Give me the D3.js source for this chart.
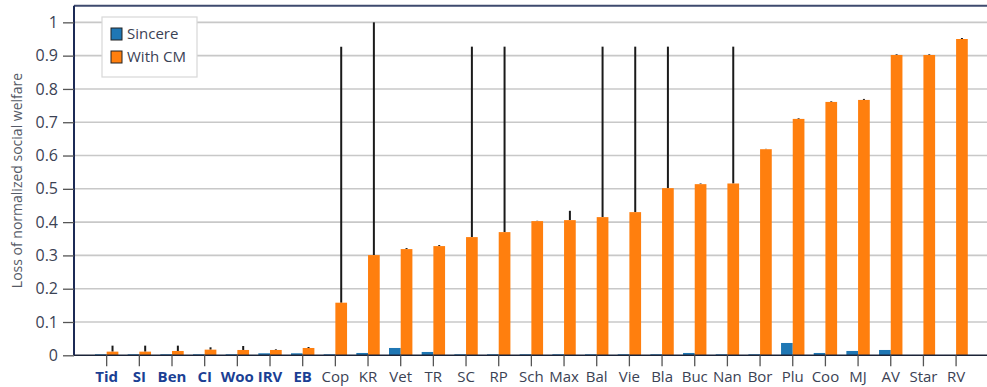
<!DOCTYPE html>
<html>
<head>
<meta charset="utf-8">
<script src="https://cdn.jsdelivr.net/npm/d3@7/dist/d3.min.js"></script>
<style>
  html, body { margin: 0; padding: 0; background: #fff; }
  svg { display: block; font-family: "Open Sans", "Noto Sans", sans-serif; }
</style>
</head>
<body>
<svg id="chart" width="987" height="387"></svg>
<script>
// Voting rules, ordered by loss under coalitional manipulation
const categories = ["Tid","SI","Ben","CI","Woo","IRV","EB","Cop","KR","Vet","TR","SC","RP","Sch","Max","Bal","Vie","Bla","Buc","Nan","Bor","Plu","Coo","MJ","AV","Star","RV"];
// Rules drawn in bold on the axis
const boldRules = ["Tid","SI","Ben","CI","Woo","IRV","EB"];
// Loss with sincere voting
const sincere = [0.003,0.003,0.003,0.003,0.003,0.006,0.006,0.003,0.007,0.022,0.010,0.003,0.003,0.003,0.003,0.003,0.003,0.003,0.007,0.003,0.003,0.037,0.007,0.013,0.016,0.001,0.001];
// Loss with coalitional manipulation
const withCM = [0.011,0.011,0.013,0.017,0.016,0.016,0.022,0.158,0.301,0.319,0.328,0.355,0.370,0.403,0.406,0.415,0.430,0.502,0.514,0.516,0.619,0.710,0.761,0.767,0.902,0.902,0.950];
// Upper end of the error bar on each "With CM" bar
const withCMHigh = [0.029,0.029,0.029,0.024,0.028,0.018,0.025,0.927,1.000,0.322,0.331,0.927,0.927,0.404,0.434,0.927,0.927,0.927,0.516,0.927,0.620,0.712,0.763,0.770,0.904,0.904,0.953];
const yTicks = [0,0.1,0.2,0.3,0.4,0.5,0.6,0.7,0.8,0.9,1];
const yTickLabels = ["0","0.1","0.2","0.3","0.4","0.5","0.6","0.7","0.8","0.9","1"];
const seriesNames = ["Sincere","With CM"];
const seriesColors = ["#1f77b4","#ff7f0e"];

const svg = d3.select("#chart");
const plotLeft = 74, plotTop = 5.7, plotBottom = 355.3;
const step = 32.67;
const plotRight = plotLeft + step * (categories.length + 1);

const x = d3.scaleBand().domain(categories).range([plotLeft, plotRight]).paddingInner(0).paddingOuter(0.5);
const y = d3.scaleLinear().domain([0, 1.05]).range([plotBottom, plotTop]);
const bw = x.step() * 0.358;

// Horizontal gridlines
svg.append("g")
  .selectAll("line")
  .data(yTicks.filter(d => d > 0))
  .join("line")
  .attr("x1", plotLeft).attr("x2", 987)
  .attr("y1", d => y(d)).attr("y2", d => y(d))
  .attr("stroke", "#c8c8c8").attr("stroke-width", 1.6);

// Top frame line
svg.append("line")
  .attr("x1", plotLeft).attr("x2", 987)
  .attr("y1", plotTop).attr("y2", plotTop)
  .attr("stroke", "#3e4a6e").attr("stroke-width", 2);

// Error bars (drawn beneath the bars)
svg.append("g")
  .selectAll("line")
  .data(categories)
  .join("line")
  .attr("x1", d => x(d) + x.bandwidth() / 2 + bw / 2)
  .attr("x2", d => x(d) + x.bandwidth() / 2 + bw / 2)
  .attr("y1", (d, i) => y(withCM[i]))
  .attr("y2", (d, i) => y(withCMHigh[i]))
  .attr("stroke", "#1a1a1a").attr("stroke-width", 2);

// Sincere bars
svg.append("g")
  .selectAll("rect")
  .data(categories)
  .join("rect")
  .attr("x", d => x(d) + x.bandwidth() / 2 - bw)
  .attr("width", bw)
  .attr("y", (d, i) => y(sincere[i]))
  .attr("height", (d, i) => y(0) - y(sincere[i]))
  .attr("fill", seriesColors[0]);

// With CM bars
svg.append("g")
  .selectAll("rect")
  .data(categories)
  .join("rect")
  .attr("x", d => x(d) + x.bandwidth() / 2)
  .attr("width", bw)
  .attr("y", (d, i) => y(withCM[i]))
  .attr("height", (d, i) => y(0) - y(withCM[i]))
  .attr("fill", seriesColors[1]);

// X axis
const xAxis = svg.append("g")
  .attr("transform", `translate(0,${plotBottom})`)
  .call(d3.axisBottom(x).tickSizeInner(11).tickSizeOuter(0).tickPadding(5));
xAxis.select(".domain").attr("stroke", "#1c2438").attr("stroke-width", 1.6).attr("d", `M${plotLeft},0H987`);
xAxis.selectAll(".tick line").attr("stroke", "#555").attr("stroke-width", 1.3);
xAxis.selectAll(".tick text")
  .attr("font-size", 15)
  .attr("font-family", "'Open Sans', sans-serif")
  .attr("fill", d => boldRules.includes(d) ? "#1b3f94" : "#3b4254")
  .attr("font-weight", d => boldRules.includes(d) ? "bold" : "normal");

// Y axis
const yAxis = svg.append("g")
  .attr("transform", `translate(${plotLeft},0)`)
  .call(d3.axisLeft(y).tickValues(yTicks).tickFormat((d, i) => yTickLabels[i]).tickSizeInner(11).tickSizeOuter(0).tickPadding(5));
yAxis.select(".domain").attr("stroke", "#1c2a55").attr("stroke-width", 2).attr("d", `M0,${plotTop}V${plotBottom}`);
yAxis.selectAll(".tick line").attr("stroke", "#555").attr("stroke-width", 1.3);
yAxis.selectAll(".tick text")
  .attr("font-size", 16)
  .attr("font-family", "'Open Sans', sans-serif")
  .attr("fill", "#3b4254");

// Y axis title
svg.append("text")
  .attr("transform", `translate(22,${(plotTop + plotBottom) / 2}) rotate(-90)`)
  .attr("text-anchor", "middle")
  .attr("font-size", 14)
  .attr("fill", "#555a66")
  .text("Loss of normalized social welfare");

// Legend
const lg = svg.append("g").attr("transform", "translate(102,17)");
lg.append("rect")
  .attr("width", 95).attr("height", 60)
  .attr("fill", "#fff").attr("stroke", "#d8d8d8").attr("stroke-width", 1.2);
seriesNames.forEach((name, i) => {
  const row = lg.append("g").attr("transform", `translate(9,${11 + i * 23})`);
  row.append("rect")
    .attr("width", 11).attr("height", 12)
    .attr("fill", seriesColors[i]).attr("stroke", "#222").attr("stroke-width", 1);
  row.append("text")
    .attr("x", 16).attr("y", 11)
    .attr("font-size", 15)
    .attr("fill", "#3b4254")
    .text(name);
});
</script>
</body>
</html>
